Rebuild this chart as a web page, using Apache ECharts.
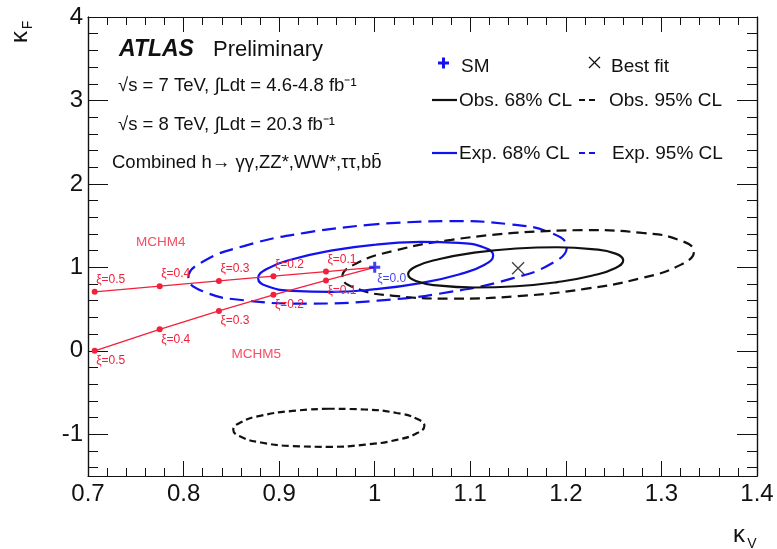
<!DOCTYPE html>
<html>
<head>
<meta charset="utf-8">
<script src="https://cdn.jsdelivr.net/npm/echarts@6/dist/echarts.min.js"></script>
<style>
  html, body { margin: 0; padding: 0; background: #fff; }
  #chart { width: 777px; height: 549px; }
</style>
</head>
<body>
<div id="chart"></div>
<script>
// coupling modifier values
const xiLabels = ['ξ=0.5', 'ξ=0.4', 'ξ=0.3', 'ξ=0.2', 'ξ=0.1', 'ξ=0.0'];
const mchm4KV = [0.707, 0.775, 0.837, 0.894, 0.949, 1.0];
const mchm4KF = [0.707, 0.775, 0.837, 0.894, 0.949, 1.0];
const mchm5KV = [0.707, 0.775, 0.837, 0.894, 0.949, 1.0];
const mchm5KF = [0.0, 0.258, 0.478, 0.671, 0.843, 1.0];

const smPoint = [1.0, 1.0];
const bestFit = [1.15, 0.99];

// likelihood contours [kV, kF], traced around each ellipse
const exp68 = [
  [1.001, 1.273], [0.954, 1.200], [0.914, 1.097], [0.887, 0.980], [0.878, 0.868],
  [0.887, 0.776], [0.914, 0.719], [0.954, 0.706], [1.001, 0.739], [1.048, 0.812],
  [1.088, 0.915], [1.115, 1.032], [1.124, 1.145], [1.115, 1.236], [1.088, 1.293],
  [1.048, 1.306], [1.001, 1.273]
];
const exp95 = [
  [1.003, 1.519], [0.927, 1.414], [0.863, 1.255], [0.820, 1.067], [0.805, 0.877],
  [0.820, 0.715], [0.863, 0.606], [0.927, 0.566], [1.003, 0.601], [1.079, 0.706],
  [1.143, 0.865], [1.186, 1.053], [1.201, 1.243], [1.186, 1.405], [1.143, 1.514],
  [1.079, 1.554], [1.003, 1.519]
];
const obs68 = [
  [1.148, 1.226], [1.104, 1.176], [1.068, 1.100], [1.043, 1.009], [1.035, 0.916],
  [1.043, 0.836], [1.068, 0.781], [1.104, 0.759], [1.148, 0.774], [1.191, 0.824],
  [1.227, 0.900], [1.252, 0.992], [1.260, 1.084], [1.252, 1.165], [1.227, 1.219],
  [1.191, 1.241], [1.148, 1.226]
];
const obs95 = [
  [1.150, 1.417], [1.080, 1.330], [1.020, 1.198], [0.980, 1.042], [0.966, 0.884],
  [0.980, 0.750], [1.020, 0.659], [1.080, 0.626], [1.150, 0.655], [1.220, 0.742],
  [1.280, 0.874], [1.320, 1.030], [1.334, 1.188], [1.320, 1.322], [1.280, 1.413],
  [1.220, 1.446], [1.150, 1.417]
];
const obs95Low = [
  [0.952, -0.694], [0.914, -0.720], [0.881, -0.777], [0.860, -0.856], [0.852, -0.945],
  [0.860, -1.031], [0.881, -1.099], [0.914, -1.141], [0.952, -1.150], [0.990, -1.124],
  [1.023, -1.067], [1.044, -0.988], [1.052, -0.899], [1.044, -0.814], [1.023, -0.745],
  [0.990, -0.703], [0.952, -0.694]
];

const yMajorTicks = [-1, 0, 1, 2, 3, 4];
const yMinorTicks = [-1.4, -1.2, -0.8, -0.6, -0.4, -0.2, 0.2, 0.4, 0.6, 0.8,
  1.2, 1.4, 1.6, 1.8, 2.2, 2.4, 2.6, 2.8, 3.2, 3.4, 3.6, 3.8];

const FONT = '"Liberation Sans", Arial, Helvetica, sans-serif';
const RED = '#f2203a';
const BLUE = '#1212ee';
const BLACK = '#111';

const chart = echarts.init(document.getElementById('chart'), null, { renderer: 'canvas' });

function xAx(position, labels) {
  return {
    type: 'value', min: 0.7, max: 1.4, interval: 0.1, position: position,
    axisLine: { show: true, onZero: false, lineStyle: { color: BLACK, width: 1.2 } },
    axisTick: { show: true, inside: true, length: 15, lineStyle: { color: BLACK, width: 1 } },
    minorTick: { show: true, splitNumber: 5, length: 8, lineStyle: { color: BLACK, width: 1 } },
    axisLabel: { show: labels, color: BLACK, fontSize: 24, fontFamily: FONT, margin: 6 },
    splitLine: { show: false }
  };
}

function yAx(position, ticks, len, labels) {
  return {
    type: 'value', min: -1.5, max: 4, position: position,
    axisLine: { show: true, onZero: false, lineStyle: { color: BLACK, width: 1.2 } },
    axisTick: { show: true, inside: true, length: len, customValues: ticks, lineStyle: { color: BLACK, width: 1 } },
    axisLabel: { show: labels, customValues: ticks, color: BLACK, fontSize: 24, fontFamily: FONT, margin: 5 },
    splitLine: { show: false }
  };
}

function contour(pts, color, dash, width) {
  return {
    type: 'line', data: pts, smooth: true, symbol: 'none', silent: true,
    lineStyle: { color: color, width: width || 2.2, type: dash }, z: 2
  };
}

function model(kv, kf, labelPos, labelOffset) {
  return {
    type: 'line', silent: true, z: 4,
    lineStyle: { color: RED, width: 1.3 },
    itemStyle: { color: RED },
    symbolSize: 6,
    data: kv.map((v, i) => ({
      name: xiLabels[i],
      value: [v, kf[i]],
      symbol: i < kv.length - 1 ? 'circle' : 'none',
      label: {
        show: i < kv.length - 1, formatter: '{b}', position: labelPos, offset: labelOffset,
        color: RED, fontSize: 12, fontFamily: FONT, distance: 3
      }
    }))
  };
}

function txt(x, y, text, font, color) {
  return {
    type: 'text', silent: true,
    style: {
      x: x, y: y, text: text, font: font, fill: color || BLACK,
      textAlign: 'left', textVerticalAlign: 'middle', align: 'left', verticalAlign: 'middle'
    }
  };
}

function seg(x1, y1, x2, y2, color, dash, w) {
  return {
    type: 'line', silent: true,
    shape: { x1: x1, y1: y1, x2: x2, y2: y2 },
    style: { stroke: color, lineWidth: w || 2, lineDash: dash || null }
  };
}

const f19 = '19px ' + FONT;
const f18 = '18.5px ' + FONT;

const graphic = [
  txt(119, 50, 'ATLAS', 'italic bold 23px ' + FONT),
  txt(213, 50, 'Preliminary', '22px ' + FONT),
  txt(118, 86, '√s = 7 TeV, ∫Ldt = 4.6-4.8 fb⁻¹', f18),
  txt(118, 125, '√s = 8 TeV, ∫Ldt = 20.3 fb⁻¹', f18),
  txt(112, 163, 'Combined h→ γγ,ZZ*,WW*,ττ,bb̄', f18),

  // legend
  { type: 'rect', silent: true, shape: { x: 438, y: 61.5, width: 11, height: 3 }, style: { fill: BLUE } },
  { type: 'rect', silent: true, shape: { x: 442, y: 57.5, width: 3, height: 11 }, style: { fill: BLUE } },
  txt(461, 67, 'SM', f19),
  seg(589, 57, 600, 68, BLACK, null, 1.3),
  seg(600, 57, 589, 68, BLACK, null, 1.3),
  txt(611, 67, 'Best fit', f19),
  seg(432, 100, 457, 100, BLACK, null, 2.2),
  txt(459, 101, 'Obs. 68% CL', f19),
  seg(579, 100, 596, 100, BLACK, [6, 4], 2.2),
  txt(609, 101, 'Obs. 95% CL', f19),
  seg(432, 153, 457, 153, BLUE, null, 2.2),
  txt(459, 154, 'Exp. 68% CL', f19),
  seg(579, 153, 596, 153, BLUE, [6, 4], 2.2),
  txt(612, 154, 'Exp. 95% CL', f19),

  // axis titles
  {
    type: 'group', x: 20, y: 37, rotation: Math.PI / 2, silent: true,
    children: [
      { type: 'text', style: { x: 0, y: 0, text: 'κ', font: '24px ' + FONT, fill: BLACK,
        textAlign: 'center', textVerticalAlign: 'middle', align: 'center', verticalAlign: 'middle' } },
      { type: 'text', style: { x: 12, y: 8, text: 'F', font: '14px ' + FONT, fill: BLACK,
        textAlign: 'center', textVerticalAlign: 'middle', align: 'center', verticalAlign: 'middle' } }
    ]
  },
  {
    type: 'group', x: 739, y: 535, silent: true,
    children: [
      { type: 'text', style: { x: 0, y: 0, text: 'κ', font: '24px ' + FONT, fill: BLACK,
        textAlign: 'center', textVerticalAlign: 'middle', align: 'center', verticalAlign: 'middle' } },
      { type: 'text', style: { x: 13, y: 9, text: 'V', font: '14px ' + FONT, fill: BLACK,
        textAlign: 'center', textVerticalAlign: 'middle', align: 'center', verticalAlign: 'middle' } }
    ]
  }
];

const option = {
  backgroundColor: '#fff',
  animation: false,
  grid: { left: 88, right: 20, top: 17, bottom: 73, containLabel: false },
  xAxis: [xAx('bottom', true), xAx('top', false)],
  yAxis: [
    yAx('left', yMajorTicks, 20, true),
    yAx('left', yMinorTicks, 10, false),
    yAx('right', yMajorTicks, 20, false),
    yAx('right', yMinorTicks, 10, false)
  ],
  graphic: graphic,
  series: [
    contour(exp95, BLUE, [14, 7]),
    contour(obs95, BLACK, [10, 6]),
    contour(exp68, BLUE, 'solid'),
    contour(obs68, BLACK, 'solid'),
    contour(obs95Low, BLACK, [7, 4]),
    model(mchm4KV, mchm4KF, 'top', [16, 0]),
    model(mchm5KV, mchm5KF, 'bottom', [16, -2]),
    {
      type: 'scatter', silent: true, z: 5,
      symbol: 'path://M0,0L10,10M10,0L0,10', symbolSize: 12,
      itemStyle: { color: 'none', borderColor: BLACK, borderWidth: 1.3 },
      data: [bestFit]
    },
    {
      type: 'scatter', silent: true, z: 6,
      symbol: 'path://M4,0H7V4H11V7H7V11H4V7H0V4H4Z', symbolSize: 11,
      itemStyle: { color: BLUE },
      label: { show: true, formatter: 'ξ=0.0', position: 'bottom', offset: [17, -3], distance: 3,
        color: BLUE, fontSize: 12, fontFamily: FONT },
      data: [smPoint]
    },
    {
      type: 'scatter', silent: true, z: 5, symbolSize: 0,
      label: { show: true, position: 'inside', formatter: '{b}', color: RED, fontSize: 13.5, fontFamily: FONT },
      data: [
        { name: 'MCHM4', value: [0.776, 1.30] },
        { name: 'MCHM5', value: [0.876, -0.036] }
      ]
    }
  ]
};

chart.setOption(option);
</script>
</body>
</html>
